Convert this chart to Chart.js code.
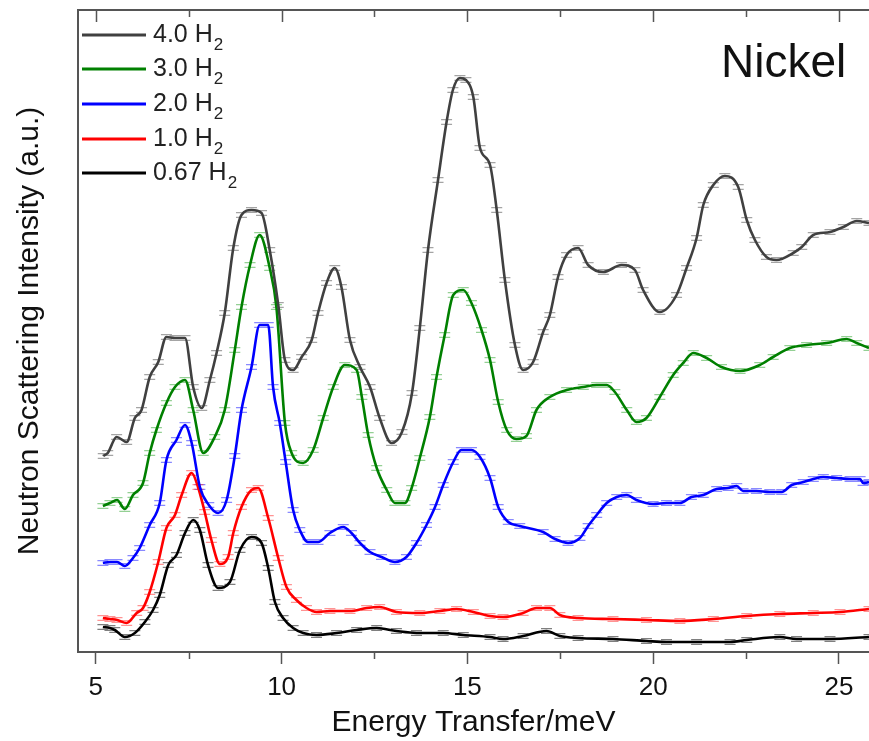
<!DOCTYPE html>
<html>
<head>
<meta charset="utf-8">
<script src="https://cdn.jsdelivr.net/npm/chart.js@4"></script>
<style>
  html, body { margin: 0; padding: 0; background: #fff; }
  #wrap { width: 869px; height: 741px; }
</style>
</head>
<body>
<div id="wrap"><canvas id="chart" width="869" height="741"></canvas></div>
<script>
// loading labels and colours, top to bottom
const loadings = ["4.0", "3.0", "2.0", "1.0", "0.67"];
const lineColors = ["#404040", "#008000", "#0000ff", "#ff0000", "#000000"];
const capColors = ["rgba(90,90,90,0.55)", "rgba(60,170,60,0.55)", "rgba(40,40,255,0.55)", "rgba(255,40,40,0.5)", "rgba(0,0,0,0.5)"];
const minorTicks = [7.5, 12.5, 17.5, 22.5];
const majorTicks = [5, 10, 15, 20, 25];

// 4.0 H2
const h40_x = [5.2,5.32,5.56,5.83,6.05,6.23,6.45,6.68,6.90,7.13,7.40,7.62,7.85,8.07,8.25,8.47,8.70,8.92,9.19,9.46,9.68,9.91,10.09,10.31,10.54,10.81,10.98,11.21,11.43,11.61,11.84,12.11,12.38,12.64,12.96,13.24,13.51,13.72,13.94,14.21,14.44,14.61,14.80,14.96,15.16,15.34,15.61,15.79,16.01,16.28,16.50,16.77,17.04,17.22,17.44,17.67,17.98,18.25,18.66,19.15,19.51,19.73,20.18,20.63,20.90,21.17,21.35,21.62,21.93,22.29,22.52,22.74,23.05,23.32,23.77,24.00,24.31,24.76,25.12,25.48,25.81];
const h40_y = [196,199,215,210,234,242,275,290,315,314,314,265,244,272,299,339,404,437,442,439,402,347,292,282,295,312,339,369,384,365,312,285,265,234,209,220,259,324,402,472,530,562,574,572,555,504,487,442,372,307,282,290,320,337,375,397,404,387,380,387,382,362,340,357,384,414,447,467,476,465,432,412,395,392,399,405,417,420,425,431,429];

// 3.0 H2
const h30_x = [5.19,5.38,5.57,5.78,6.00,6.27,6.45,6.63,6.90,7.13,7.40,7.62,7.89,8.20,8.47,8.74,8.92,9.15,9.41,9.68,9.86,10.09,10.27,10.58,10.85,11.12,11.39,11.70,12.02,12.16,12.33,12.56,12.83,13.05,13.32,13.50,13.72,13.99,14.17,14.39,14.62,14.89,15.11,15.38,15.61,15.83,16.06,16.32,16.59,16.86,17.22,17.67,18.12,18.48,18.75,18.97,19.29,19.55,19.82,20.18,20.54,20.81,21.08,21.44,21.84,22.34,22.87,23.23,23.68,24.13,24.67,25.21,25.48,25.81];
const h30_y = [146,149,152,143,157,169,199,222,249,265,272,242,199,215,242,302,345,387,417,384,345,229,199,189,202,234,265,287,282,255,217,184,162,149,149,164,194,235,275,317,357,362,349,322,292,250,222,213,216,242,255,262,265,267,267,260,242,230,234,255,277,289,299,294,285,281,287,295,304,307,309,313,309,304];

// 2.0 H2
const h20_x = [5.19,5.38,5.57,5.78,6.00,6.18,6.45,6.72,6.90,7.17,7.40,7.58,7.80,8.04,8.29,8.52,8.74,8.92,9.19,9.41,9.64,9.77,9.95,10.11,10.31,10.49,10.71,10.98,11.30,11.66,11.88,12.11,12.38,12.69,13.05,13.36,13.63,13.90,14.13,14.35,14.62,14.84,15.11,15.34,15.61,15.83,16.10,16.41,17.04,17.36,17.71,18.03,18.25,18.48,18.75,19.02,19.29,19.55,20.00,20.36,20.72,21.03,21.35,21.71,22.02,22.25,22.42,22.78,23.14,23.46,23.73,24.04,24.31,24.58,24.94,25.30,25.57,25.65,25.81];
const h20_y = [89,90,90,86,94,104,127,149,192,212,227,209,165,147,139,152,196,242,285,327,327,265,229,190,142,122,110,110,119,125,119,109,100,95,90,95,109,127,145,167,190,202,202,195,174,145,130,126,120,113,109,114,126,137,149,155,157,152,148,149,149,155,157,163,164,166,161,161,160,160,167,170,173,175,174,173,173,169,170];

// 1.0 H2
const h10_x = [5.19,5.38,5.57,5.83,6.10,6.27,6.45,6.68,6.90,7.13,7.31,7.58,7.75,7.93,8.11,8.34,8.56,8.70,8.92,9.19,9.37,9.64,9.91,10.13,10.40,10.67,10.94,11.30,11.84,12.29,12.64,13.09,13.72,14.26,14.71,15.16,15.61,15.96,16.50,16.86,17.22,17.49,17.98,18.92,19.82,20.72,21.62,22.52,23.41,24.31,25.03,25.81];
const h10_y = [34,33,32,29,39,44,60,90,124,137,157,179,165,140,112,88,95,119,145,162,164,134,94,65,52,44,40,41,41,44,45,40,39,41,43,40,36,35,39,44,44,37,34,33,32,31,33,36,38,39,40,43];

// 0.67 H2
const h067_x = [5.19,5.38,5.51,5.78,6.05,6.32,6.54,6.72,6.95,7.17,7.40,7.62,7.80,8.02,8.29,8.61,8.88,9.19,9.46,9.64,9.82,10.04,10.31,10.58,10.94,11.48,12.02,12.56,13.09,13.63,14.35,14.89,15.61,15.96,16.50,17.13,17.49,17.98,18.92,19.82,20.36,21.17,22.07,22.52,23.41,23.86,24.76,25.81];
const h067_y = [25,24,22,15,19,30,42,57,87,97,119,132,122,87,64,70,102,115,109,84,50,34,24,19,17,19,22,24,21,19,19,17,15,13,16,21,16,14,13,11,10,10,10,12,15,13,13,15];

const seriesX = [h40_x, h30_x, h20_x, h10_x, h067_x];
const seriesY = [h40_y, h30_y, h20_y, h10_y, h067_y];

const FONT = "Arial, 'Liberation Sans', sans-serif";
Chart.defaults.font.family = FONT;

const datasets = loadings.map((name, i) => ({
  label: name + " H\u2082",
  data: seriesX[i].map((x, k) => ({ x: x, y: seriesY[i][k] })),
  borderColor: lineColors[i],
  borderWidth: 2.6,
  pointRadius: 0,
  cubicInterpolationMode: "monotone",
  fill: false
}));

// small "=" error caps on each measured point
const errorCaps = {
  id: "errorCaps",
  beforeDatasetsDraw(chart) {
    const ctx = chart.ctx;
    const a = chart.chartArea;
    ctx.save();
    ctx.beginPath();
    ctx.rect(a.left, a.top, a.right - a.left, a.bottom - a.top);
    ctx.clip();
    chart.data.datasets.forEach((ds, i) => {
      const meta = chart.getDatasetMeta(i);
      ctx.strokeStyle = capColors[i];
      ctx.lineWidth = 1.3;
      ctx.beginPath();
      meta.data.forEach(pt => {
        ctx.moveTo(pt.x - 5.5, pt.y - 2.3); ctx.lineTo(pt.x + 5.5, pt.y - 2.3);
        ctx.moveTo(pt.x - 5.5, pt.y + 2.3); ctx.lineTo(pt.x + 5.5, pt.y + 2.3);
      });
      ctx.stroke();
    });
    ctx.restore();
  }
};

// top frame, inward top ticks, minor ticks, legend and sample name
const decorations = {
  id: "decorations",
  afterDraw(chart) {
    const ctx = chart.ctx;
    const a = chart.chartArea;
    const xs = chart.scales.x;
    ctx.save();
    ctx.strokeStyle = "#555";
    ctx.lineWidth = 2;
    ctx.beginPath();
    ctx.moveTo(a.left - 1, a.top);
    ctx.lineTo(a.right, a.top);
    ctx.stroke();

    ctx.lineWidth = 1.5;
    ctx.beginPath();
    majorTicks.forEach(v => {
      const px = Math.round(xs.getPixelForValue(v)) + 0.5;
      ctx.moveTo(px, a.top); ctx.lineTo(px, a.top + 12);
    });
    minorTicks.forEach(v => {
      const px = Math.round(xs.getPixelForValue(v)) + 0.5;
      ctx.moveTo(px, a.top); ctx.lineTo(px, a.top + 7);
      ctx.moveTo(px, a.bottom); ctx.lineTo(px, a.bottom + 7);
    });
    ctx.stroke();

    // legend
    const rows = [35, 69, 104, 139, 173];
    loadings.forEach((name, i) => {
      const y = rows[i];
      ctx.strokeStyle = lineColors[i];
      ctx.lineWidth = 3;
      ctx.beginPath();
      ctx.moveTo(82, y); ctx.lineTo(146, y);
      ctx.stroke();
      ctx.fillStyle = "#222";
      ctx.textBaseline = "middle";
      ctx.textAlign = "left";
      ctx.font = "25px " + FONT;
      const main = name + " H";
      ctx.fillText(main, 153, y);
      const w = ctx.measureText(main).width;
      ctx.font = "17px " + FONT;
      ctx.fillText("2", 153 + w + 1, y + 10);
    });

    ctx.fillStyle = "#111";
    ctx.font = "46px " + FONT;
    ctx.textBaseline = "middle";
    ctx.fillText("Nickel", 721, 64);
    ctx.restore();
  }
};

new Chart(document.getElementById("chart"), {
  type: "line",
  data: { datasets: datasets },
  options: {
    responsive: false,
    animation: false,
    layout: { padding: { top: 10, right: 0, left: 0, bottom: 0 } },
    plugins: { legend: { display: false }, tooltip: { enabled: false } },
    scales: {
      x: {
        type: "linear",
        min: 4.52,
        max: 25.81,
        afterFit: s => { s.height = 89; },
        ticks: { stepSize: 5, includeBounds: false, color: "#111", font: { size: 26 }, padding: 8, maxRotation: 0 },
        grid: { display: true, drawOnChartArea: false, drawTicks: true, tickLength: 12, tickWidth: 1.5, color: "#555" },
        border: { display: true, color: "#555", width: 2 },
        title: { display: true, text: "Energy Transfer/meV", color: "#111", font: { size: 30 }, padding: { top: 0, bottom: 0 } }
      },
      y: {
        min: 0,
        max: 642,
        afterFit: s => { s.width = 78; },
        ticks: { display: false },
        grid: { display: false },
        border: { display: true, color: "#555", width: 2 },
        title: { display: true, text: "Neutron Scattering Intensity (a.u.)", color: "#111", font: { size: 30 }, padding: { top: 12, bottom: 0 } }
      }
    }
  },
  plugins: [errorCaps, decorations]
});
</script>
</body>
</html>
